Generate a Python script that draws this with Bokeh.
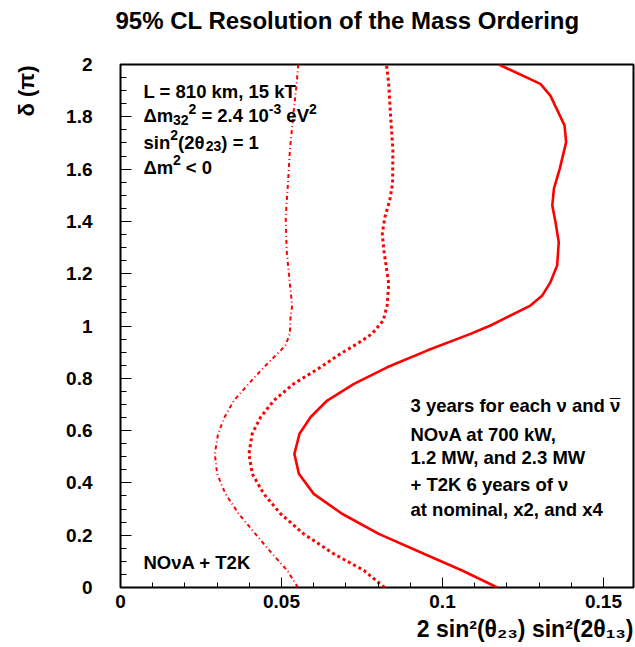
from bokeh.plotting import figure
from bokeh.models import (Range1d, LinearAxis, FixedTicker, CustomJSTickFormatter, Label, Title)
from bokeh.embed import file_html
from bokeh.resources import INLINE

# ---------------- data ----------------
# NOvA 700 kW + T2K nominal (dash-dot)
delta_700kw = [0.000, 0.065, 0.129, 0.205, 0.282, 0.358, 0.435, 0.511, 0.588, 0.651,
               0.715, 0.779, 0.842, 0.906, 0.925, 0.970, 1.034, 1.078, 1.161, 1.289,
               1.416, 1.544, 1.671, 1.800, 1.926, 2.000]
x_700kw = [0.0551, 0.0518, 0.0471, 0.0419, 0.0367, 0.0326, 0.0300, 0.0293, 0.0303, 0.0323,
           0.0352, 0.0398, 0.0445, 0.0497, 0.0512, 0.0526, 0.0528, 0.0533, 0.0526, 0.0516,
           0.0513, 0.0520, 0.0526, 0.0536, 0.0547, 0.0552]

# NOvA 1.2 MW + T2K x2 (dotted)
delta_1p2mw = [0.000, 0.065, 0.129, 0.205, 0.282, 0.358, 0.435, 0.511, 0.588, 0.651,
               0.715, 0.779, 0.842, 0.894, 0.932, 0.970, 1.021, 1.078, 1.161, 1.289,
               1.353, 1.416, 1.480, 1.544, 1.671, 1.800, 1.926, 2.000]
x_1p2mw = [0.0820, 0.0756, 0.0662, 0.0569, 0.0497, 0.0445, 0.0409, 0.0399, 0.0409, 0.0435,
           0.0476, 0.0538, 0.0621, 0.0683, 0.0735, 0.0781, 0.0816, 0.0828, 0.0833, 0.0818,
           0.0813, 0.0821, 0.0836, 0.0845, 0.0846, 0.0839, 0.0833, 0.0826]

# NOvA 2.3 MW + T2K x4 (solid)
delta_2p3mw = [0.000, 0.065, 0.129, 0.205, 0.282, 0.358, 0.435, 0.511, 0.588, 0.651,
               0.715, 0.779, 0.842, 0.906, 0.970, 1.002, 1.034, 1.078, 1.117, 1.167,
               1.231, 1.320, 1.397, 1.461, 1.525, 1.601, 1.703, 1.767, 1.881, 1.926, 2.000]
x_2p3mw = [0.1170, 0.1061, 0.0942, 0.0802, 0.0688, 0.0600, 0.0554, 0.0540, 0.0556, 0.0590,
           0.0642, 0.0725, 0.0828, 0.0952, 0.1087, 0.1149, 0.1201, 0.1273, 0.1310, 0.1335,
           0.1356, 0.1361, 0.1351, 0.1341, 0.1346, 0.1364, 0.1384, 0.1379, 0.1335, 0.1304, 0.1175]

x_ticks = [0, 0.05, 0.1, 0.15]
x_tick_labels = ["0", "0.05", "0.1", "0.15"]
y_ticks = [0, 0.2, 0.4, 0.6, 0.8, 1.0, 1.2, 1.4, 1.6, 1.8, 2.0]
y_tick_labels = ["0", "0.2", "0.4", "0.6", "0.8", "1", "1.2", "1.4", "1.6", "1.8", "2"]

title_text = "95% CL Resolution of the Mass Ordering"
info_lines = [
    [("L = 810 km, 15 kT", "n")],
    [("\u0394m", "n"), ("32", "sub"), ("2", "sup"), (" = 2.4 10", "n"), ("-3", "sup"), (" eV", "n"), ("2", "sup")],
    [("sin", "n"), ("2", "sup"), ("(2\u03b8", "n"), ("23", "sub"), (") = 1", "n")],
    [("\u0394m", "n"), ("2", "sup"), (" < 0", "n")],
]
desc_first = "3 years for each \u03bd and "
desc_nu = "\u03bd"
desc_lines = [
    "NO\u03bdA at 700 kW,",
    "1.2 MW, and 2.3 MW",
    "+ T2K 6 years of \u03bd",
    "at nominal, x2, and x4",
]
combo_text = "NO\u03bdA + T2K"
x_title = "2 sin\u00b2(\u03b8\u2082\u2083) sin\u00b2(2\u03b8\u2081\u2083)"
y_title = "\u03b4 (\u03c0)"

# ---------------- layout constants ----------------
FONT = "Liberation Sans"
PX_X = 3220.0      # pixels per x unit
PX_Y = 261.5       # pixels per y unit
FRAME_L, FRAME_T = 120, 64
FRAME_W, FRAME_H = 513, 523
FRAME_B = FRAME_T + FRAME_H


def fx(sx):   # canvas x -> frame-relative screen x
    return sx - FRAME_L


def fy(sy):   # canvas y (top-down) -> frame-relative screen y (bottom-up)
    return FRAME_B - sy


AW = {' ': 278, '(': 333, ')': 333, '+': 584, ',': 278, '-': 333, '.': 278, '<': 584, '=': 584,
      'A': 722, 'K': 722, 'L': 611, 'M': 833, 'N': 722, 'O': 778, 'T': 611, 'V': 667, 'W': 944,
      'a': 556, 'c': 556, 'd': 611, 'e': 556, 'f': 333, 'h': 611, 'i': 278, 'k': 556, 'l': 278,
      'm': 889, 'n': 611, 'o': 611, 'r': 389, 's': 556, 't': 333, 'x': 556, 'y': 556,
      '\u0394': 700, '\u03b8': 611, '\u03bd': 556, '\u03b4': 611, '\u03c0': 700}


def tw(s, size):
    return sum(AW.get(c, 556) for c in s) / 1000.0 * size


p = figure(frame_width=FRAME_W, frame_height=FRAME_H,
           x_range=Range1d(0, FRAME_W / PX_X), y_range=Range1d(0, FRAME_H / PX_Y),
           min_border_left=FRAME_L, min_border_right=635 - FRAME_L - FRAME_W,
           min_border_top=FRAME_T, min_border_bottom=647 - FRAME_B,
           x_axis_type=None, y_axis_type=None,
           output_backend="svg", toolbar_location=None)
p.background_fill_color = "white"
p.border_fill_color = "white"
p.outline_line_color = "black"
p.outline_line_width = 2
p.xgrid.visible = False
p.ygrid.visible = False

# main title (a blank spacer sits between it and the frame)
p.add_layout(Title(text=" ", text_font=FONT, text_font_size="12px", standoff=15), "above")
p.title.text = title_text
p.title.align = "left"
p.title.offset = -5
p.title.standoff = 0
p.title.vertical_align = "bottom"
p.title.text_font = FONT
p.title.text_font_size = "24px"
p.title.text_font_style = "bold"
p.title.text_color = "black"

fmt_code = "const i = tv.findIndex(t => Math.abs(t - tick) < 1e-9); return i >= 0 ? tl[i] : '';"

xaxis = LinearAxis(
    ticker=FixedTicker(ticks=x_ticks, minor_ticks=[round(0.01 * i, 2) for i in range(16)]),
    formatter=CustomJSTickFormatter(args=dict(tv=x_ticks, tl=x_tick_labels), code=fmt_code),
    axis_line_color=None,
    major_tick_in=10, major_tick_out=0, minor_tick_in=5, minor_tick_out=0,
    major_tick_line_color="black", minor_tick_line_color="black",
    major_label_standoff=7,
    major_label_text_font=FONT, major_label_text_font_style="bold",
    major_label_text_font_size="19px", major_label_text_color="black")
p.add_layout(xaxis, "below")

yaxis = LinearAxis(
    ticker=FixedTicker(ticks=y_ticks, minor_ticks=[round(0.05 * i, 2) for i in range(41)]),
    formatter=CustomJSTickFormatter(args=dict(tv=y_ticks, tl=y_tick_labels), code=fmt_code),
    axis_line_color=None,
    major_tick_in=11, major_tick_out=0, minor_tick_in=6, minor_tick_out=0,
    major_tick_line_color="black", minor_tick_line_color="black",
    major_label_standoff=28,
    major_label_text_font=FONT, major_label_text_font_style="bold",
    major_label_text_font_size="19px", major_label_text_color="black")
p.add_layout(yaxis, "left")

# axis titles (ROOT style: at the far end of each axis)
p.add_layout(Title(text=x_title, align="right", vertical_align="bottom", offset=0, standoff=7,
                   text_font=FONT, text_font_size="23px", text_font_style="bold",
                   text_color="black"), "below")
# blank spacer between the y tick labels and the y title
p.add_layout(Title(text=" ", text_font=FONT, text_font_size="12px", standoff=7), "left")
p.add_layout(Title(text=y_title, align="right", vertical_align="top", offset=1, standoff=0,
                   text_font=FONT, text_font_size="22px", text_font_style="bold",
                   text_color="black"), "left")

RED = "#ff0000"
p.line(x_700kw, delta_700kw, line_color=RED, line_width=2, line_dash="4 3 1 3")
p.line(x_1p2mw, delta_1p2mw, line_color=RED, line_width=3, line_dash="3 3")
p.line(x_2p3mw, delta_2p3mw, line_color=RED, line_width=2.6)


def put(text, sx, sy, size, align="left", angle=0.0):
    p.add_layout(Label(x=fx(sx), y=fy(sy), x_units="screen", y_units="screen",
                       text=text, text_font=FONT,
                       text_font_size=f"{size}px", text_font_style="bold",
                       text_align=align, text_baseline="alphabetic", angle=angle,
                       text_color="black"))


def rich(pieces, sx, sy, F, S, sub, sup, align="left"):
    total = sum(tw(t, F if k == "n" else S) for t, k in pieces)
    x = sx - total if align == "right" else sx
    for t, k in pieces:
        size = F if k == "n" else S
        dy = 0 if k == "n" else (sub if k == "sub" else -sup)
        lead = len(t) - len(t.lstrip(" "))
        put(t.strip(" "), x + tw(" " * lead, size), sy + dy, size)
        x += tw(t, size)


# info block (top-left)
for line, base in zip(info_lines, [90.7, 115.3, 141.7, 166.8]):
    rich(line, 143, base, 18.5, 14, 4, 7)

# description block (right)
put(desc_first, 410, 405, 18.5)
nu_x = 410 + tw(desc_first, 18.5)
put(desc_nu, nu_x, 405, 18.5)
put("\u00af", nu_x + tw(desc_nu, 18.5) / 2, 405, 18.5, align="center")
for line, base in zip(desc_lines, [433.5, 456.5, 483.5, 509]):
    put(line, 410, base, 18.5)

put(combo_text, 143, 562, 18.5)

open("out.html", "w").write(file_html(p, INLINE))
